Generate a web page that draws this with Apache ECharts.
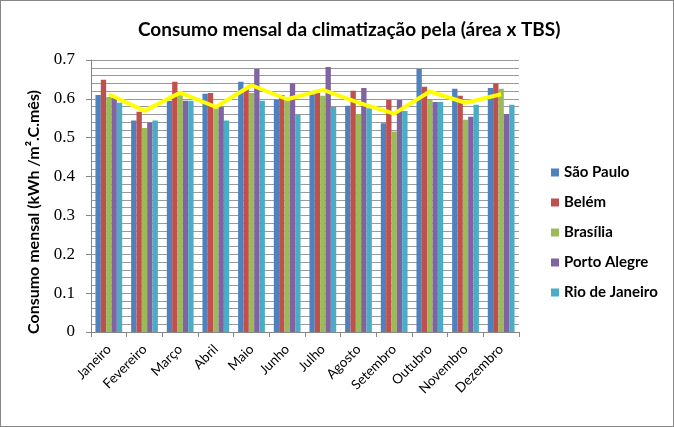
<!DOCTYPE html>
<html>
<head>
<meta charset="utf-8">
<script src="https://cdn.jsdelivr.net/npm/echarts@6/dist/echarts.min.js"></script>
<style>
html,body{margin:0;padding:0;background:#fff;}
#c{width:674px;height:427px;box-sizing:border-box;border:1px solid #868686;}
</style>
</head>
<body>
<div id="c"></div>
<script>
const months = ['Janeiro','Fevereiro','Março','Abril','Maio','Junho','Julho','Agosto','Setembro','Outubro','Novembro','Dezembro'];
const saoPaulo = [0.610,0.544,0.595,0.613,0.644,0.598,0.612,0.582,0.537,0.677,0.626,0.628];
const belem    = [0.649,0.567,0.644,0.615,0.625,0.610,0.615,0.621,0.597,0.631,0.608,0.640];
const brasilia = [0.605,0.525,0.609,0.575,0.615,0.600,0.608,0.561,0.516,0.597,0.546,0.626];
const portoAlegre = [0.602,0.539,0.595,0.579,0.677,0.640,0.682,0.628,0.597,0.592,0.554,0.561];
const rioDeJaneiro = [0.590,0.544,0.595,0.544,0.595,0.560,0.579,0.576,0.569,0.592,0.585,0.585];
const media = [0.612,0.569,0.616,0.579,0.635,0.599,0.623,0.590,0.562,0.619,0.590,0.612];
const cityNames = ['São Paulo','Belém','Brasília','Porto Alegre','Rio de Janeiro'];
const cityData = [saoPaulo, belem, brasilia, portoAlegre, rioDeJaneiro];
const colors = ['#4F81BD','#C0504D','#9BBB59','#8064A2','#4BACC6'];
const yName = 'Consumo mensal (kWh /m².C.mês)';

const sans = 'Lato, "Open Sans", sans-serif';
const chart = echarts.init(document.getElementById('c'), null, {renderer:'canvas'});
const series = cityNames.map((n,i)=>({
  name:n, type:'bar', data:cityData[i], barGap:'0%', barCategoryGap:'25%',
  itemStyle:{color:colors[i]}
}));
series.push({
  name:'Média', type:'line', data:media, symbol:'none',
  lineStyle:{color:'#FFFF00', width:4}, z:5
});
chart.setOption({
  animation:false,
  title:{text:'Consumo mensal da climatização pela (área x TBS)', left:132, top:14,
    textStyle:{fontFamily:sans, fontSize:19, fontWeight:'bold', color:'#000'}},
  legend:{data:cityNames, orient:'vertical', left:545, top:159, itemWidth:8, itemHeight:8,
    itemGap:15, icon:'rect', textStyle:{fontFamily:sans, fontSize:15, fontWeight:'bold', color:'#000'}},
  grid:{left:90, right:154, top:59, bottom:94},
  graphic:[{type:'text', x:33, y:211, rotation:Math.PI/2,
    style:{text:yName, font:'bold 16px Lato, "Open Sans", sans-serif', fill:'#000',
      textAlign:'center', textVerticalAlign:'middle'}}],
  xAxis:{type:'category', data:months,
    axisLine:{lineStyle:{color:'#868686'}},
    axisTick:{show:true, length:5, lineStyle:{color:'#868686'}},
    axisLabel:{rotate:45, interval:0, fontFamily:sans, fontSize:13.5, color:'#000', margin:15}},
  yAxis:{type:'value', min:0, max:0.7, interval:0.1,
    axisLine:{show:true, lineStyle:{color:'#868686'}},
    axisTick:{show:true, length:5, lineStyle:{color:'#868686'}},
    axisLabel:{fontFamily:'"Liberation Serif", serif', fontSize:17, color:'#000', margin:16},
    splitLine:{show:true, lineStyle:{color:'#9a9a9a'}},
    minorTick:{show:false, splitNumber:5},
    minorSplitLine:{show:true, lineStyle:{color:'#9a9a9a'}}},
  series:series
});
</script>
</body>
</html>
